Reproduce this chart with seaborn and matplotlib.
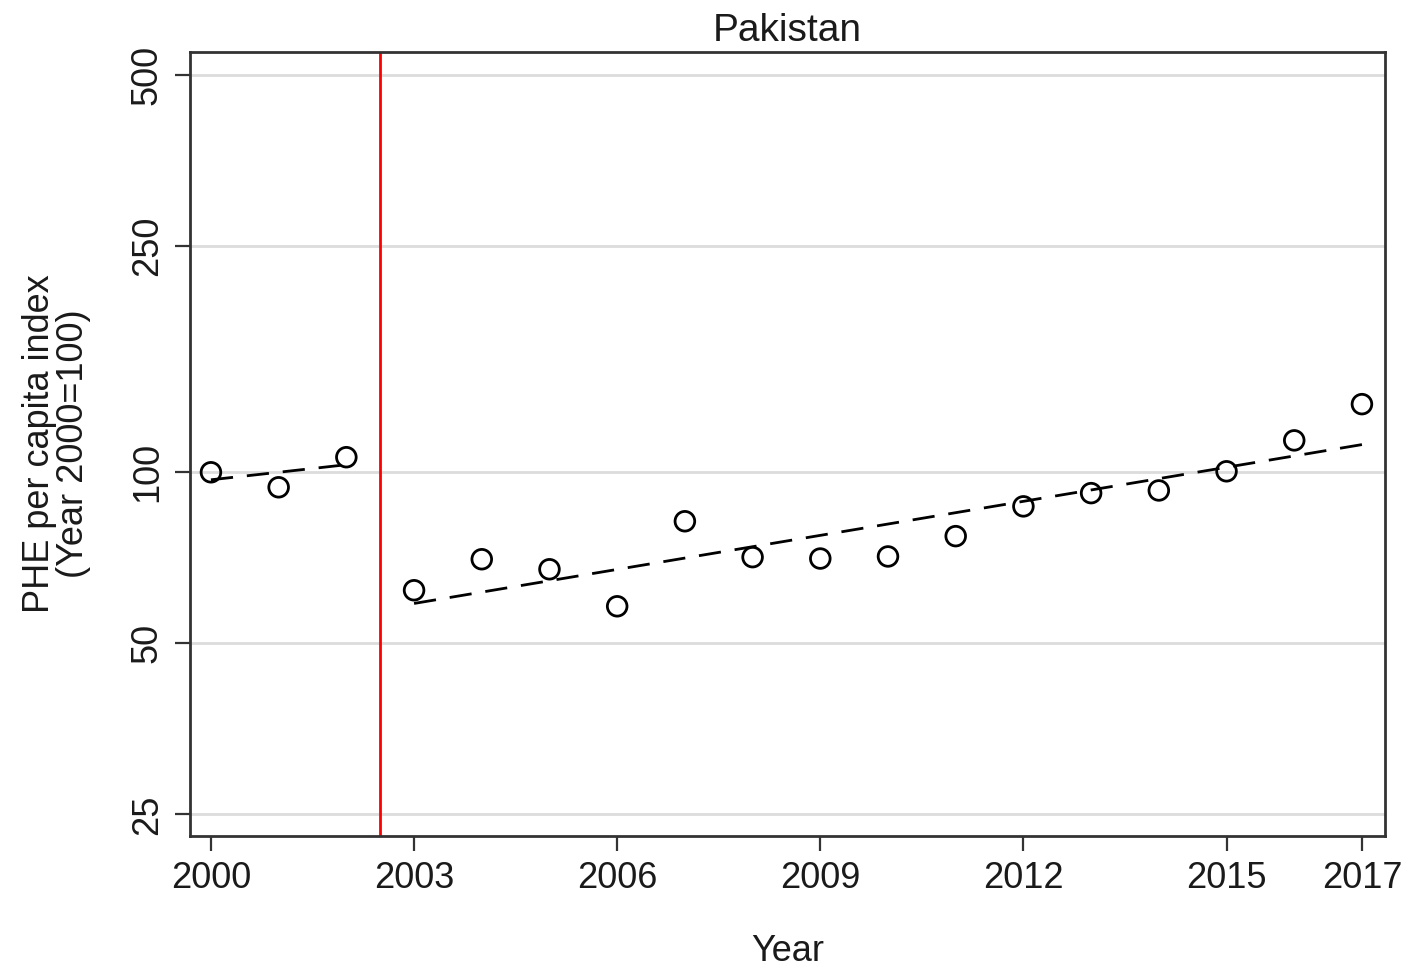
import numpy as np
import pandas as pd
import matplotlib
matplotlib.use('Agg')
import matplotlib.pyplot as plt
import seaborn as sns

years = [2000, 2001, 2002, 2003, 2004, 2005, 2006, 2007, 2008,
         2009, 2010, 2011, 2012, 2013, 2014, 2015, 2016, 2017]
phe_index = [100.0, 94.1, 106.3, 62.0, 70.3, 67.5, 58.1, 82.0, 70.9,
             70.5, 71.1, 77.2, 87.1, 91.9, 92.9, 100.4, 113.8, 131.8]
break_year = 2002.5
ytick_vals = [25, 50, 100, 250, 500]
xtick_vals = [2000, 2003, 2006, 2009, 2012, 2015, 2017]

sns.set_theme(style='ticks')
plt.rcParams['font.family'] = ['Liberation Sans', 'DejaVu Sans']

df = pd.DataFrame({'year': years, 'phe': phe_index})
df['period'] = np.where(df['year'] < break_year, 'pre', 'post')

# log-linear trend in each period
fits = []
for per, g in df.groupby('period'):
    b, a = np.polyfit(g['year'], np.log(g['phe']), 1)
    yr = np.array([g['year'].min(), g['year'].max()])
    fits.append(pd.DataFrame({'year': yr, 'fit': np.exp(a + b * yr), 'period': per}))
fit_df = pd.concat(fits)

fig = plt.figure(figsize=(14.25, 9.71), dpi=100)
ax = fig.add_axes([0.1333, 0.139, 0.8386, 0.8074])

ax.set_yscale('log')
for v in ytick_vals:
    ax.axhline(v, color='#dcdcdc', lw=2, zorder=0)

for per in ['pre', 'post']:
    sub = fit_df[fit_df['period'] == per]
    sns.lineplot(data=sub, x='year', y='fit', ax=ax, color='black', lw=2,
                 dashes=False, zorder=2)
for l in ax.get_lines()[-2:]:
    l.set_dashes([8, 5])

sns.scatterplot(data=df, x='year', y='phe', ax=ax, marker='o', s=200,
                facecolor='none', edgecolor='black', linewidth=2, zorder=3)

ax.axvline(break_year, color='red', lw=2, zorder=1)

ax.set_xlim(1999.69, 2017.34)
ax.set_ylim(22.9, 549)
ax.set_yticks(ytick_vals)
ax.set_yticklabels([str(v) for v in ytick_vals], rotation=90, va='center')
ax.yaxis.set_minor_locator(matplotlib.ticker.NullLocator())
ax.set_xticks(xtick_vals)
ax.tick_params(axis='both', labelsize=26, length=11, width=1.6, color='#333333',
               labelcolor='#1a1a1a', pad=7)

for s in ax.spines.values():
    s.set_color('#333333')
    s.set_linewidth(2)

ax.set_title('Pakistan', fontsize=28, color='#1a1a1a', pad=8)
ax.set_xlabel('Year', fontsize=26, color='#1a1a1a', labelpad=27)
ax.set_ylabel('PHE per capita index\n(Year 2000=100)', fontsize=26,
              color='#1a1a1a', labelpad=28, linespacing=0.95)

fig.savefig('out.png', dpi=100)
